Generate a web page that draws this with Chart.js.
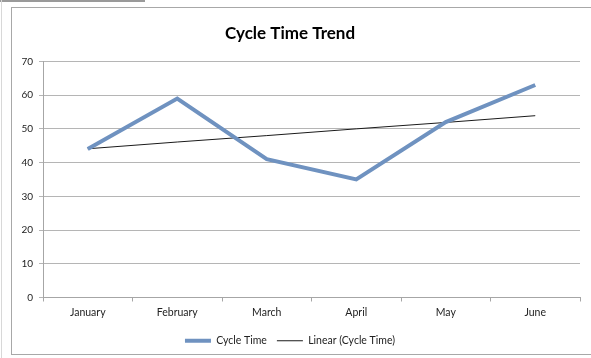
<!DOCTYPE html>
<html>
<head>
<meta charset="utf-8">
<script src="https://cdn.jsdelivr.net/npm/chart.js@4"></script>
<style>
  html, body { margin: 0; padding: 0; background: #fff; }
  #wrap { position: relative; width: 591px; height: 358px; overflow: hidden; }
  #frame { position: absolute; left: 11px; top: 7px; width: 600px; height: 346px; border: 1px solid #a8a8a8; border-right: none; }
  #topbar { position: absolute; left: 0; top: 0; width: 145px; height: 2px; background: #9a9a9a; }
  #leftline { position: absolute; left: 1px; top: 0; width: 1px; height: 358px; background: #d8d8d8; }
  canvas { position: absolute; left: 0; top: 0; }
</style>
</head>
<body>
<div id="wrap">
  <div id="topbar"></div>
  <div id="leftline"></div>
  <div id="frame"></div>
  <canvas id="c" width="591" height="358"></canvas>
</div>
<script>
const categories = ["January", "February", "March", "April", "May", "June"];
const cycleTime = [44, 59, 41, 35, 52, 63];
const linearTrend = [44.1, 46.1, 48.0, 50.0, 51.9, 53.9];
const yTicks = [0, 10, 20, 30, 40, 50, 60, 70];
const chartTitle = "Cycle Time Trend";
const seriesNames = ["Cycle Time", "Linear (Cycle Time)"];

const FONT = "Lato, 'Open Sans', sans-serif";

new Chart(document.getElementById('c'), {
  type: 'line',
  data: {
    labels: categories,
    datasets: [
      {
        label: seriesNames[0],
        data: cycleTime,
        borderColor: '#6f92c0',
        backgroundColor: '#6f92c0',
        borderWidth: 4,
        pointRadius: 0,
        tension: 0,
        borderJoinStyle: 'miter'
      },
      {
        label: seriesNames[1],
        data: linearTrend,
        borderColor: '#1a1a1a',
        backgroundColor: '#1a1a1a',
        borderWidth: 1,
        pointRadius: 0,
        tension: 0
      }
    ]
  },
  options: {
    responsive: false,
    animation: false,
    devicePixelRatio: 1,
    layout: { padding: { left: 0, right: 11, top: 0, bottom: 2 } },
    plugins: {
      title: {
        display: true,
        text: chartTitle,
        color: '#000',
        font: { family: FONT, size: 17, weight: 'bold' },
        padding: { top: 23, bottom: 18 }
      },
      legend: {
        display: true,
        position: 'bottom',
        labels: {
          usePointStyle: true,
          pointStyle: 'line',
          pointStyleWidth: 26,
          color: '#222',
          font: { family: FONT, size: 10.5 },
          padding: 10
        }
      },
      tooltip: { enabled: false }
    },
    scales: {
      x: {
        offset: true,
        grid: {
          offset: true,
          drawOnChartArea: false,
          drawTicks: true,
          tickLength: 4,
          color: '#a6a6a6'
        },
        border: { color: '#a6a6a6', width: 1 },
        ticks: {
          color: '#222',
          font: { family: FONT, size: 10.5 },
          padding: 5,
          maxRotation: 0,
          autoSkip: false
        },
        afterFit: s => { s.height = 28; }
      },
      y: {
        min: yTicks[0],
        max: yTicks[yTicks.length - 1],
        afterBuildTicks: s => { s.ticks = yTicks.map(v => ({ value: v })); },
        grid: {
          color: '#b5b5b5',
          tickLength: 4,
          drawTicks: true
        },
        border: { color: '#a6a6a6', width: 1 },
        ticks: {
          color: '#222',
          font: { family: FONT, size: 10 },
          padding: 6
        },
        afterFit: s => { s.width = 43; }
      }
    }
  }
});
</script>
</body>
</html>
